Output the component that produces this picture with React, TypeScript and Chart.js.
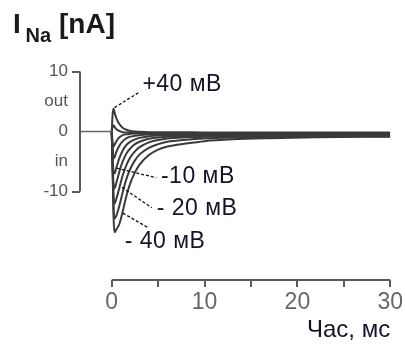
import React, { useEffect, useRef } from "react";
import { Chart, registerables } from "chart.js";

Chart.register(...registerables);

// time axis (ms) shared by all traces
const TIME_MS = [0, 0.1, 0.2, 0.3, 0.5, 0.8, 1.2, 1.6, 2, 2.5, 3, 4, 5, 6, 8, 10, 13, 17, 22, 30];

// Na current traces (nA) at different test potentials
const I_P40 = [0, 3.0, 3.8, 3.2, 2.2, 1.3, 0.6, 0.3, 0.1, 0, -0.05, -0.1, -0.1, -0.12, -0.13, -0.14, -0.15, -0.15, -0.15, -0.15];
const I_P30 = [0, 0.8, 1.0, 0.8, 0.4, 0.1, -0.1, -0.15, -0.2, -0.2, -0.22, -0.22, -0.23, -0.23, -0.24, -0.25, -0.25, -0.25, -0.25, -0.25];
const I_P20 = [0, -2.0, -2.5, -2.2, -1.6, -1.0, -0.6, -0.45, -0.38, -0.33, -0.32, -0.31, -0.31, -0.31, -0.31, -0.32, -0.32, -0.32, -0.33, -0.33];
const I_P10 = [0, -3.2, -4.5, -4.3, -3.4, -2.4, -1.6, -1.1, -0.85, -0.7, -0.6, -0.5, -0.45, -0.43, -0.42, -0.42, -0.42, -0.42, -0.42, -0.42];
const I_0 = [0, -4.5, -6.8, -7.0, -6.0, -4.5, -3.1, -2.2, -1.7, -1.3, -1.05, -0.8, -0.65, -0.6, -0.55, -0.52, -0.5, -0.5, -0.5, -0.5];
const I_M10 = [0, -5.5, -9.0, -9.5, -8.5, -6.8, -4.9, -3.6, -2.8, -2.1, -1.7, -1.2, -1.0, -0.85, -0.75, -0.7, -0.65, -0.62, -0.6, -0.6];
const I_M20 = [0, -6.0, -11.0, -12.0, -11.2, -9.5, -7.2, -5.5, -4.3, -3.3, -2.6, -1.8, -1.4, -1.15, -0.95, -0.85, -0.8, -0.75, -0.72, -0.7];
const I_M30 = [0, -6.5, -13.0, -14.5, -14.0, -12.5, -10.0, -7.8, -6.2, -4.8, -3.8, -2.7, -2.1, -1.7, -1.35, -1.15, -1.0, -0.9, -0.82, -0.76];
const I_M40 = [0, -7.0, -14.5, -16.8, -16.3, -15.5, -13.2, -10.6, -8.6, -6.8, -5.5, -3.9, -3.0, -2.5, -2.0, -1.6, -1.3, -1.1, -0.95, -0.85];

const TRACES = [I_P40, I_P30, I_P20, I_P10, I_0, I_M10, I_M20, I_M30, I_M40];
const TRACE_NAMES = ["+40 мВ", "+30 мВ", "+20 мВ", "+10 мВ", "0 мВ", "-10 мВ", "-20 мВ", "-30 мВ", "-40 мВ"];

// holding baseline before the step
const BASELINE_T = [-3.42, 0];
const BASELINE_I = [0, 0];

// axes
const X_MIN = -3.42;
const X_MAX = 30;
const X_TICKS = [0, 5, 10, 15, 20, 25, 30];
const X_TICK_LABELS = ["0", "", "10", "", "20", "", "30"];
const Y_MIN = -24.75;
const Y_MAX = 11.6;
const Y_TICKS = [10, 5, 0, -5, -10];
const Y_TICK_LABELS = ["10", "out", "0", "in", "-10"];
const Y_TICK_MARKS = [true, false, false, false, true];

// trace annotations
const NOTE_TEXT = ["+40 мВ", "-10 мВ", "- 20 мВ", "- 40 мВ"];
const NOTE_FROM_T = [0.3, 0.55, 1.1, 1.2];
const NOTE_FROM_I = [4.0, -6.1, -9.3, -13.6];
const NOTE_TO_T = [3.0, 4.8, 4.3, 4.0];
const NOTE_TO_I = [6.6, -7.7, -12.7, -16.1];
const NOTE_AT_T = [3.3, 5.3, 4.85, 1.4];
const NOTE_AT_I = [7.9, -7.6, -12.8, -18.4];

const FONT = "'Liberation Sans', Arial, sans-serif";
const NARROW = "'Liberation Sans Narrow', 'Arial Narrow', 'Liberation Sans', sans-serif";

const decorPlugin = {
  id: "decor",
  afterDraw(chart: any) {
    const { ctx, scales } = chart;
    const xs = scales.x;
    const ys = scales.y;
    ctx.save();
    ctx.strokeStyle = "#5a5a5a";
    ctx.lineWidth = 2;
    const left = chart.chartArea.left;
    ctx.beginPath();
    ctx.moveTo(left, ys.getPixelForValue(10));
    ctx.lineTo(left, ys.getPixelForValue(-10));
    ctx.stroke();
    const bottom = chart.chartArea.bottom;
    ctx.beginPath();
    ctx.moveTo(xs.getPixelForValue(0), bottom);
    ctx.lineTo(xs.getPixelForValue(30), bottom);
    ctx.stroke();

    ctx.strokeStyle = "#111";
    ctx.lineWidth = 1.3;
    ctx.setLineDash([3, 2]);
    for (let i = 0; i < NOTE_TEXT.length; i++) {
      ctx.beginPath();
      ctx.moveTo(xs.getPixelForValue(NOTE_FROM_T[i]), ys.getPixelForValue(NOTE_FROM_I[i]));
      ctx.lineTo(xs.getPixelForValue(NOTE_TO_T[i]), ys.getPixelForValue(NOTE_TO_I[i]));
      ctx.stroke();
    }
    ctx.setLineDash([]);
    ctx.fillStyle = "#141428";
    ctx.font = `23px ${FONT}`;
    (ctx as any).letterSpacing = "0.5px";
    ctx.textAlign = "left";
    ctx.textBaseline = "middle";
    for (let i = 0; i < NOTE_TEXT.length; i++) {
      ctx.fillText(NOTE_TEXT[i], xs.getPixelForValue(NOTE_AT_T[i]), ys.getPixelForValue(NOTE_AT_I[i]));
    }
    (ctx as any).letterSpacing = "0px";

    ctx.fillStyle = "#1a1a1a";
    ctx.textBaseline = "alphabetic";
    ctx.font = `bold 28px ${FONT}`;
    ctx.fillText("I", 13, 33);
    ctx.font = `bold 20px ${FONT}`;
    ctx.fillText("Na", 25.5, 42);
    ctx.font = `bold 28px ${FONT}`;
    ctx.fillText("[nA]", 59, 33);
    ctx.restore();
  },
};

export default function App() {
  const ref = useRef<HTMLCanvasElement | null>(null);
  useEffect(() => {
    if (!ref.current) return;
    const datasets: any[] = [
      {
        label: "baseline",
        data: BASELINE_T.map((t, i) => ({ x: t, y: BASELINE_I[i] })),
        borderColor: "#666",
        borderWidth: 1.5,
        pointRadius: 0,
        tension: 0,
      },
    ];
    TRACES.forEach((tr, k) => {
      datasets.push({
        label: TRACE_NAMES[k],
        data: TIME_MS.map((t, i) => ({ x: t, y: tr[i] })),
        borderColor: "#3a3a3a",
        borderWidth: 2,
        pointRadius: 0,
        cubicInterpolationMode: "monotone",
      });
    });
    const chart = new Chart(ref.current, {
      type: "line",
      data: { datasets },
      options: {
        animation: false,
        responsive: false,
        layout: { padding: { top: 62, right: 12, left: 0, bottom: 0 } },
        plugins: { legend: { display: false }, tooltip: { enabled: false }, title: { display: false } },
        scales: {
          x: {
            type: "linear",
            min: X_MIN,
            max: X_MAX,
            afterBuildTicks: (s: any) => {
              s.ticks = X_TICKS.map((v) => ({ value: v }));
            },
            afterFit: (s: any) => {
              s.height = 65;
            },
            border: { display: false },
            grid: { drawOnChartArea: false, drawTicks: true, tickLength: 7, color: "#5a5a5a", lineWidth: 2 },
            ticks: {
              autoSkip: false,
              maxRotation: 0,
              padding: 2,
              color: "#666",
              font: { family: NARROW, size: 23 },
              callback: (v: any) => {
                const i = X_TICKS.indexOf(Number(v));
                return i >= 0 ? X_TICK_LABELS[i] : "";
              },
            },
            title: {
              display: true,
              text: "Час, мс",
              align: "end",
              color: "#141428",
              font: { family: FONT, size: 24 },
              padding: { top: 0, bottom: 0 },
            },
          },
          y: {
            type: "linear",
            min: Y_MIN,
            max: Y_MAX,
            afterBuildTicks: (s: any) => {
              s.ticks = Y_TICKS.map((v) => ({ value: v }));
            },
            afterFit: (s: any) => {
              s.width = 80;
            },
            border: { display: false },
            grid: {
              drawOnChartArea: false,
              drawTicks: true,
              tickLength: 8,
              lineWidth: 2,
              color: (c: any) => {
                const i = Y_TICKS.indexOf(c.tick ? c.tick.value : NaN);
                return i >= 0 && Y_TICK_MARKS[i] ? "#5a5a5a" : "rgba(0,0,0,0)";
              },
            },
            ticks: {
              autoSkip: false,
              padding: 4,
              color: "#555",
              font: { family: FONT, size: 17 },
              callback: (v: any) => {
                const i = Y_TICKS.indexOf(Number(v));
                return i >= 0 ? Y_TICK_LABELS[i] : "";
              },
            },
          },
        },
      },
      plugins: [decorPlugin],
    });
    return () => chart.destroy();
  }, []);
  return (
    <div style={{ position: "fixed", left: 0, top: 0, width: 405, height: 345, background: "#fff" }}>
      <canvas ref={ref} width={405} height={345} style={{ display: "block" }} />
    </div>
  );
}
